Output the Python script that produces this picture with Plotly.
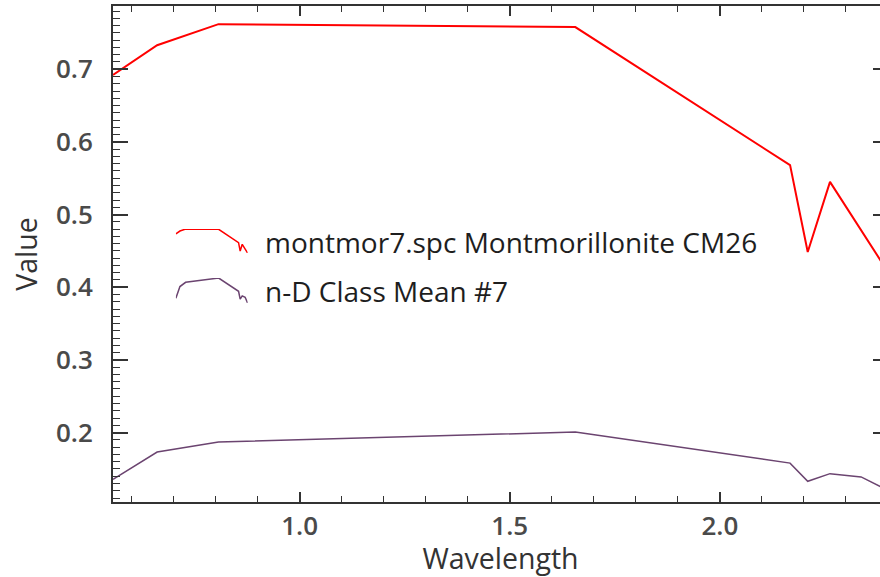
import plotly.graph_objects as go

# ---- data (ASTER-like band centers, micrometers) ----
wavelength = [0.556, 0.661, 0.807, 1.656, 2.167, 2.209, 2.262, 2.336, 2.400]
montmor_values = [0.692, 0.733, 0.762, 0.758, 0.568, 0.4485, 0.545, 0.479, 0.421]
class_mean_values = [0.1357, 0.1733, 0.187, 0.2008, 0.158, 0.133, 0.1435, 0.139, 0.1205]
series_names = ["montmor7.spc Montmorillonite CM26", "n-D Class Mean #7"]
y_tick_vals = [0.2, 0.3, 0.4, 0.5, 0.6, 0.7]
x_tick_vals = [1.0, 1.5, 2.0]

RED = "#ff0000"
PURPLE = "#6b4470"
FONT = "Open Sans"

fig = go.Figure()

# main spectra
fig.add_trace(go.Scatter(x=wavelength, y=montmor_values, mode="lines",
                         line=dict(color=RED, width=2), showlegend=False,
                         xaxis="x", yaxis="y"))
fig.add_trace(go.Scatter(x=wavelength, y=class_mean_values, mode="lines",
                         line=dict(color=PURPLE, width=1.5), showlegend=False,
                         xaxis="x", yaxis="y"))

# miniature spectra used as legend symbols (ENVI style)
fig.add_trace(go.Scatter(x=wavelength, y=montmor_values, mode="lines",
                         line=dict(color=RED, width=1.5), showlegend=False,
                         xaxis="x2", yaxis="y2"))
fig.add_trace(go.Scatter(x=wavelength, y=class_mean_values, mode="lines",
                         line=dict(color=PURPLE, width=1.5), showlegend=False,
                         xaxis="x3", yaxis="y3"))

tickfont = dict(family=FONT, size=26, color="#4a4a4a", weight=600)
titlefont = dict(family=FONT, size=28.5, color="#333333")

xr = [min(wavelength), max(wavelength)]

fig.update_layout(
    width=892, height=577,
    margin=dict(l=113, r=2, t=6, b=75),
    paper_bgcolor="white", plot_bgcolor="white",
    xaxis=dict(
        range=xr, tickvals=x_tick_vals, ticktext=["1.0", "1.5", "2.0"],
        ticks="inside", ticklen=10, tickwidth=1.5, tickcolor="#333",
        minor=dict(dtick=0.1, ticks="inside", ticklen=6, tickwidth=1.2, tickcolor="#333"),
        showline=True, linecolor="#333", linewidth=2, mirror="allticks",
        showgrid=False, zeroline=False,
        tickfont=tickfont, ticklabelstandoff=0,
        title=dict(text="Wavelength", font=titlefont, standoff=9),
    ),
    yaxis=dict(
        range=[0.1045, 0.787], tickvals=y_tick_vals,
        ticktext=[f"{v:.1f}" for v in y_tick_vals],
        ticks="inside", ticklen=15, tickwidth=1.5, tickcolor="#333",
        minor=dict(dtick=0.01, ticks="inside", ticklen=7, tickwidth=1.2, tickcolor="#333"),
        showline=True, linecolor="#333", linewidth=2, mirror="allticks",
        showgrid=False, zeroline=False,
        tickfont=tickfont, ticklabelstandoff=13,
        title=dict(text="Value", font=titlefont, standoff=10),
    ),
    xaxis2=dict(domain=[0.0811, 0.1737], range=xr, visible=False, anchor="y2"),
    yaxis2=dict(domain=[0.502, 0.5504],
                range=[min(montmor_values), max(montmor_values)],
                visible=False, anchor="x2"),
    xaxis3=dict(domain=[0.0811, 0.1737], range=xr, visible=False, anchor="y3"),
    yaxis3=dict(domain=[0.4012, 0.4516],
                range=[min(class_mean_values), max(class_mean_values)],
                visible=False, anchor="x3"),
)

legend_font = dict(family=FONT, size=28, color="#1e1e1e")
fig.add_annotation(text=series_names[0], xref="paper", yref="paper",
                   x=0.193, y=0.5252, xanchor="left", yanchor="middle",
                   showarrow=False, font=legend_font)
fig.add_annotation(text=series_names[1], xref="paper", yref="paper",
                   x=0.193, y=0.4254, xanchor="left", yanchor="middle",
                   showarrow=False, font=legend_font)

fig.write_html("out.html",
               post_script="document.documentElement.style.overflow='hidden';document.body.style.overflow='hidden';")
